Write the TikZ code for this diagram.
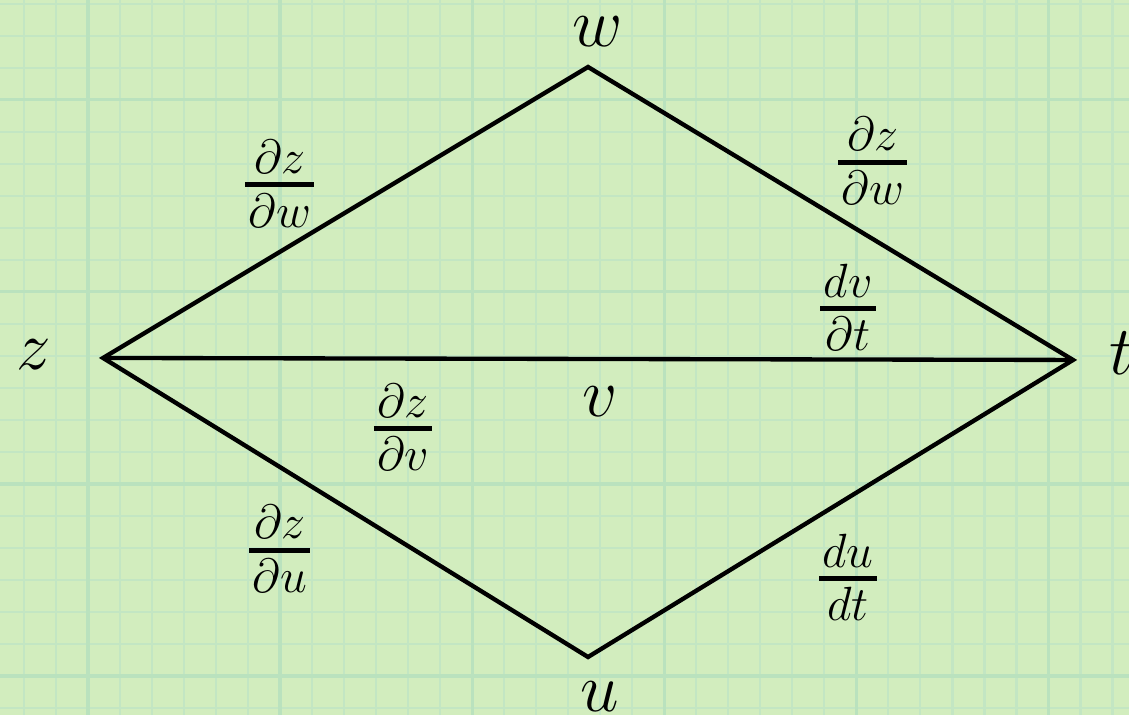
\documentclass[tikz,border=0pt]{standalone}
\usetikzlibrary{positioning}
\definecolor{cpaper}{HTML}{D2EDBE}
\definecolor{cgrid}{HTML}{C3E6C3}
\definecolor{cgridmaj}{HTML}{BAE2BE}
\tikzset{
  every picture/.style={line width=1.2pt},
  edge/.style={draw=black, line width=1.3pt, line join=miter},
  vlabel/.style={inner sep=0pt, font=\fontsize{20}{24}\selectfont},
  dlabel/.style={inner sep=0pt, font=\fontsize{15}{18}\selectfont},
  minor/.style={draw=cgrid, line width=0.7pt},
  major/.style={draw=cgridmaj, line width=1pt},
}
% fraction with a heavy bar
\newcommand{\dfr}[2]{\mathord{\vcenter{\offinterlineskip
  \halign{\hfil\kern1pt##\kern1pt\hfil\cr
    $\displaystyle#1$\cr
    \noalign{\kern2.6pt\hrule height1.5pt\kern1.9pt}
    $\displaystyle#2$\cr}}}}

\begin{document}
\begin{tikzpicture}
  % paper and grid
  \fill[cpaper] (0,0) rectangle (11.9,7.536);
  \useasboundingbox (0,0) rectangle (11.9,7.536);
  \foreach \k in {0,...,35} {
    \draw[minor] ({(24+32*\k)*0.01054},0) -- ++(0,7.536);
  }
  \foreach \k in {0,...,22} {
    \draw[minor] (0,{(711-32*\k)*0.01054}) -- ++(11.9,0);
  }
  \foreach \k in {0,...,5} {
    \draw[major] ({(88+192*\k)*0.01054},0) -- ++(0,7.536);
  }
  \foreach \k in {0,...,3} {
    \draw[major] (0,{(615-192*\k)*0.01054}) -- ++(11.9,0);
  }
  % vertices
  \coordinate (z) at (1.086, 3.763);
  \coordinate (t) at (11.31, 3.742);
  \coordinate (w) at (6.198, 6.830);
  \coordinate (u) at (6.198, 0.611);
  \node[vlabel] (zl) at (0.36, 3.80) {$z$};
  \node[vlabel] (tl) at (11.82, 3.81) {$t$};
  \node[vlabel] (wl) at (6.30, 7.20) {$w$};
  \node[vlabel] (ul) at (6.32, 0.19) {$u$};
  \node[vlabel] (vl) at (6.32, 3.30) {$v$};
  % edges
  \draw[edge] (z) -- (w) -- (t) -- (u) -- cycle;
  \draw[edge] (z) -- (t);
  % derivatives
  \node[dlabel] (dzw1) at (2.95, 5.60) {$\dfr{\partial z}{\partial w}$};
  \node[dlabel] (dzw2) at (9.20, 5.84) {$\dfr{\partial z}{\partial w}$};
  \node[dlabel] (dvt) at (8.94, 4.30) {$\dfr{dv}{\partial t}$};
  \node[dlabel] (dzv) at (4.25, 3.03) {$\dfr{\partial z}{\partial v}$};
  \node[dlabel] (dzu) at (2.95, 1.75) {$\dfr{\partial z}{\partial u}$};
  \node[dlabel] (dut) at (8.94, 1.45) {$\dfr{du}{dt}$};
\end{tikzpicture}
\end{document}
